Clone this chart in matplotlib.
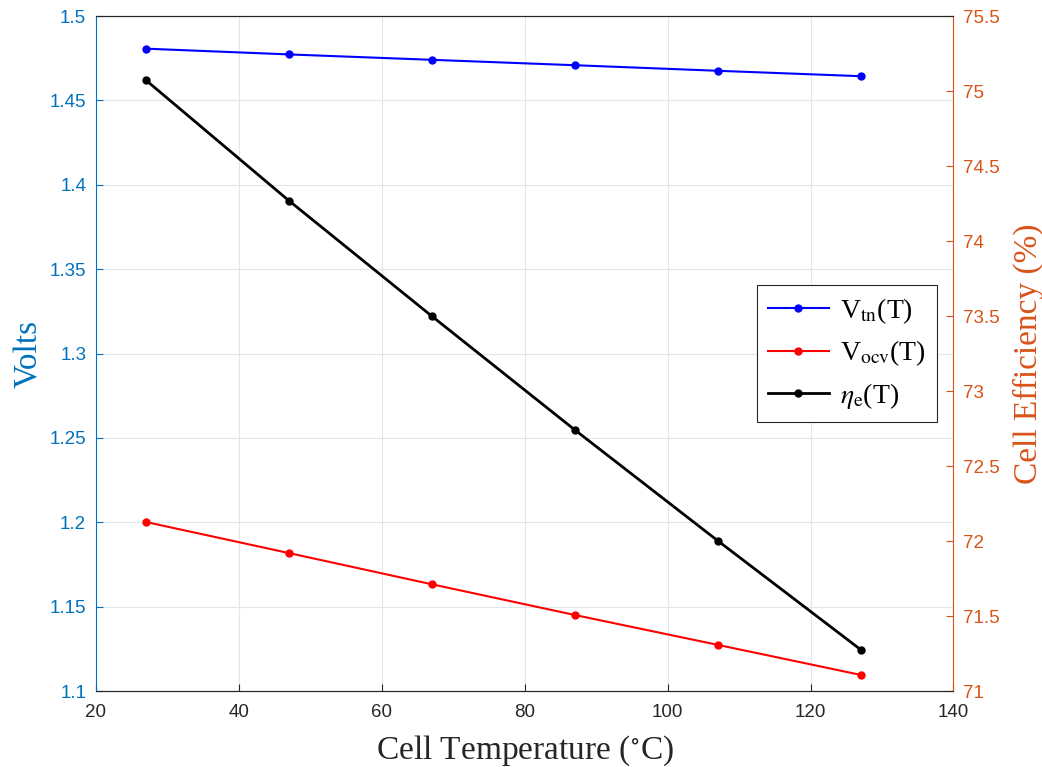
import matplotlib
matplotlib.use("Agg")
import matplotlib.pyplot as plt

# cell temperature (deg C) and the three curves
temp = [27, 47, 67, 87, 107, 127]
v_tn = [1.4807, 1.4773, 1.4741, 1.4709, 1.4676, 1.4644]
v_ocv = [1.2002, 1.1818, 1.1633, 1.1451, 1.1274, 1.1096]
eta_e = [75.073, 74.27, 73.50, 72.742, 72.003, 71.277]

xticks = [20, 40, 60, 80, 100, 120, 140]
left_ticks = [1.1, 1.15, 1.2, 1.25, 1.3, 1.35, 1.4, 1.45, 1.5]
right_ticks = [71, 71.5, 72, 72.5, 73, 73.5, 74, 74.5, 75, 75.5]

blue_ax = "#0072BD"
orange_ax = "#D95319"

plt.rcParams['font.family'] = ['Liberation Sans', 'DejaVu Sans']
plt.rcParams['mathtext.fontset'] = 'stix'

fig = plt.figure(figsize=(10.42, 7.67), dpi=100)
ax = fig.add_axes([0.092, 0.099, 0.823, 0.880])
ax2 = ax.twinx()

l1, = ax.plot(temp, v_tn, color='blue', marker='.', markersize=10, lw=1.5,
              label=r'V$_{\mathrm{tn}}$(T)')
l2, = ax.plot(temp, v_ocv, color='red', marker='.', markersize=10, lw=1.5,
              label=r'V$_{\mathrm{ocv}}$(T)')
l3, = ax2.plot(temp, eta_e, color='black', marker='.', markersize=10, lw=2,
               label=r'$\eta_{\mathrm{e}}$(T)')

ax.set_xlim(20, 140)
ax.set_ylim(1.1, 1.5)
ax2.set_ylim(71, 75.5)
ax.set_xticks(xticks)
ax.set_yticks(left_ticks)
ax.set_yticklabels([f"{v:g}" for v in left_ticks])
ax2.set_yticks(right_ticks)
ax2.set_yticklabels([f"{v:g}" for v in right_ticks])

ax.grid(True, color='#dfe6ec', lw=0.8)
ax.set_axisbelow(True)

for a in (ax, ax2):
    a.tick_params(direction='in', length=5, width=0.8, labelsize=13.5, pad=7)
ax.tick_params(axis='x', colors='#262626', top=False, pad=9)
ax.tick_params(axis='y', colors=blue_ax)
ax2.tick_params(axis='y', colors=orange_ax)

ax.spines['left'].set_color(blue_ax)
ax2.spines['left'].set_visible(False)
ax2.spines['right'].set_color(orange_ax)
ax.spines['right'].set_visible(False)
for s in ('top', 'bottom'):
    ax.spines[s].set_color('#262626')
    ax2.spines[s].set_color('#262626')

ax.set_xlabel('Cell Temperature ($^{\\circ}$C)', fontsize=24,
              family='Liberation Serif', color='#262626', labelpad=9)
ax.set_ylabel('Volts', fontsize=24, family='Liberation Serif',
              color=blue_ax, labelpad=4)
ax2.set_ylabel('Cell Efficiency (%)', fontsize=24, family='Liberation Serif',
               color=orange_ax, labelpad=9)

leg = ax2.legend(handles=[l1, l2, l3], loc='center right',
                 bbox_to_anchor=(0.981, 0.50), borderaxespad=0,
                 fancybox=False, edgecolor='#262626', framealpha=1,
                 prop={'family': 'Liberation Serif', 'size': 20},
                 handlelength=2.2, handletextpad=0.4, borderpad=0.4,
                 labelspacing=0.45)
leg.get_frame().set_linewidth(0.8)

fig.savefig('out.png', dpi=100)
